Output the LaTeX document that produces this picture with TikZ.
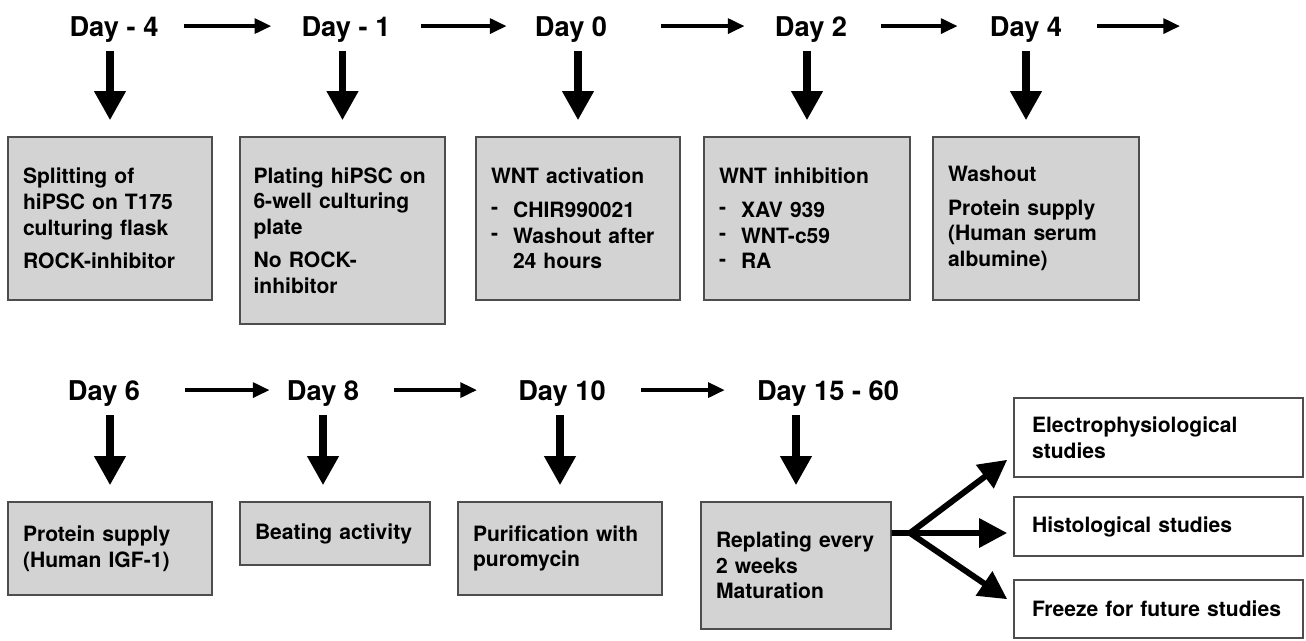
\documentclass[tikz,border=0pt]{standalone}
\usepackage{fontspec}
\setmainfont{TeX Gyre Heros}
\usetikzlibrary{arrows.meta}
\usetikzlibrary{positioning}

\definecolor{boxfill}{HTML}{D3D3D3}
\definecolor{boxline}{HTML}{4D4D4D}
\newcommand{\listdash}{\makebox[0.44cm][l]{\raisebox{1.5pt}{-}}}

\tikzset{
  day/.style={font=\fontsize{15.5}{18}\selectfont\bfseries, inner sep=0pt, text depth=0pt, anchor=base},
  stage/.style={draw=boxline, fill=boxfill, line width=0.9pt, align=left, inner xsep=0.3cm, inner ysep=0pt,
    font=\fontsize{12}{14.6}\selectfont\bfseries},
  result/.style={stage, fill=white, inner xsep=0.36cm},
  next/.style={-{Triangle[width=8.5pt,length=9.5pt]}, line width=2pt},
  down/.style={-{Triangle[width=17pt,length=16.5pt]}, line width=4pt, shorten <=0.3cm, shorten >=0.32cm},
  fan/.style={-{Triangle[width=16pt,length=16pt]}, line width=3.4pt, line join=round},
}

\begin{document}
\begin{tikzpicture}[x=0.02cm, y=-0.02cm]
                \useasboundingbox (0,0) rectangle (1306,640);
                % first row
                \node[day] (dm4) at (114,36) {Day - 4};
                \node[day] (dm1) at (346,36) {Day - 1};
                \node[day] (d0) at (571,36) {Day 0};
                \node[day] (d2) at (811,36) {Day 2};
                \node[day] (d4) at (1026,36) {Day 4};
                \coordinate (more) at (1180,26);
                \draw[next, shorten <=0.5cm, shorten >=0.6cm] (dm4.east) -- (dm1.west);
                \draw[next, shorten <=0.6cm, shorten >=0.56cm] (dm1.east) -- (d0.west);
                \draw[next, shorten <=1.08cm, shorten >=0.6cm] (d0.east) -- (d2.west);
                \draw[next, shorten <=0.68cm, shorten >=0.64cm] (d2.east) -- (d4.west);
                \draw[next, shorten <=0.7cm] (d4.east) -- (d4.east -| more);
                \node[stage, text width=3.48cm, minimum height=3.26cm] (split) at (110,218.5)
                  {Splitting of\\hiPSC on T175\\culturing flask\\[4.5pt]ROCK-inhibitor};
                \node[stage, text width=3.56cm, inner xsep=0.27cm, minimum height=3.74cm] (plate) at (342.5,230.5)
                  {Plating hiPSC on\\6-well culturing\\plate\\[4.5pt]No ROCK-\\inhibitor};
                \node[stage, text width=3.48cm, minimum height=3.26cm] (act) at (578,218.5)
                  {WNT activation\\[4.5pt]\listdash CHIR990021\\\listdash Washout after\\\hspace*{0.44cm}24 hours};
                \node[stage, text width=3.52cm, minimum height=3.26cm] (inh) at (807,218.5)
                  {WNT inhibition\\[4.5pt]\listdash XAV 939\\\listdash WNT-c59\\\listdash RA};
                \node[stage, text width=3.52cm, minimum height=3.26cm] (wash) at (1036,218.5)
                  {Washout\\[4.5pt]Protein supply\\(Human serum\\albumine)};
                \draw[down] (split.north |- dm4.south) -- (split.north);
                \draw[down] (plate.north |- dm1.south) -- (plate.north);
                \draw[down] (act.north |- d0.south) -- (act.north);
                \draw[down] (inh.north |- d2.south) -- (inh.north);
                \draw[down] (d4.south) -- (d4.south |- wash.north);
                % second row
                \node[day] (d6) at (104,400) {Day 6};
                \node[day] (d8) at (323,400) {Day 8};
                \node[day] (d10) at (562,400) {Day 10};
                \node[day] (d15) at (828,400) {Day 15 - 60};
                \draw[next, shorten <=0.9cm, shorten >=0.34cm] (d6.east) -- (d8.west);
                \draw[next, shorten <=0.7cm, shorten >=0.82cm] (d8.east) -- (d10.west);
                \draw[next, shorten <=0.7cm, shorten >=0.64cm] (d10.east) -- (d15.west);
                \node[stage, text width=3.48cm, minimum height=1.86cm] (igf) at (110,548.5)
                  {Protein supply\\(Human IGF-1)};
                \node[stage, text width=3.2cm, minimum height=1.26cm] (beat) at (335,533.5)
                  {Beating activity};
                \node[stage, text width=3.48cm, minimum height=1.86cm] (puro) at (560,548.5)
                  {Purification with\\puromycin};
                \node[stage, text width=3.2cm, minimum height=2.54cm] (rep) at (796,565.5)
                  {Replating every\\2 weeks\\Maturation};
                \draw[down] (igf.north |- d6.south) -- (igf.north);
                \draw[down] (d8.south) -- (d8.south |- beat.north);
                \draw[down] (puro.north |- d10.south) -- (puro.north);
                \draw[down] (rep.north |- d15.south) -- (rep.north);
                % outcomes
                \node[result, text width=5.06cm, minimum height=1.58cm] (elec) at (1158.5,437.5)
                  {Electrophysiological\\studies};
                \node[result, text width=5.06cm, minimum height=1.18cm] (hist) at (1158.5,526.5)
                  {Histological studies};
                \node[result, text width=5.06cm, minimum height=1.16cm] (frz) at (1158.5,609)
                  {Freeze for future studies};
                \coordinate (fork) at (910,533);
                \draw[fan] (rep.east |- fork) -- (fork) -- ([xshift=-0.12cm, yshift=0.36cm]elec.south west);
                \draw[fan] (rep.east |- fork) -- (fork) -- ([xshift=-0.12cm, yshift=-0.13cm]hist.west);
                \draw[fan] (rep.east |- fork) -- (fork) -- ([xshift=-0.12cm, yshift=-0.4cm]frz.north west);
              \end{tikzpicture}
\end{document}
